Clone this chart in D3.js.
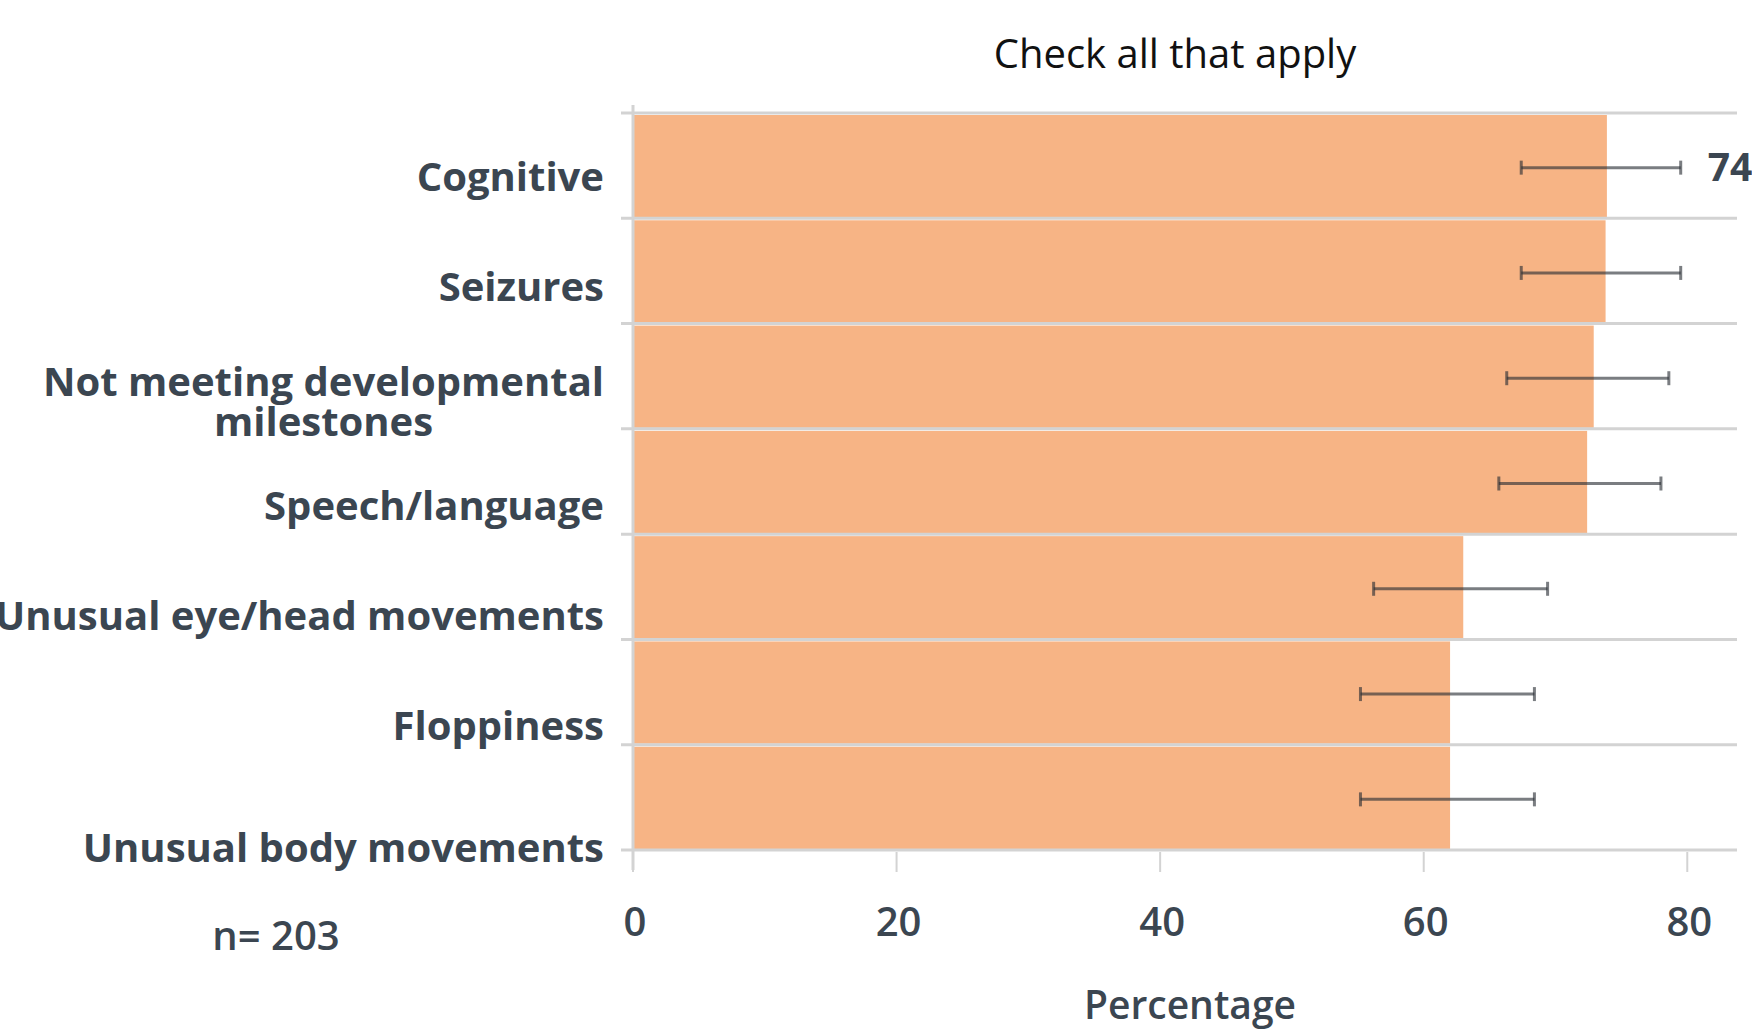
<!DOCTYPE html>
<html>
<head>
<meta charset="utf-8">
<script src="https://cdn.jsdelivr.net/npm/d3@7"></script>
<style>
  body { margin: 0; background: #fff; }
  text { font-family: "Open Sans", sans-serif; }
</style>
</head>
<body>
<div class="js-chart"></div>
<script>
'use strict';

//chart data
var categories = ['Cognitive', 'Seizures', 'Not meeting developmental milestones',
    'Speech/language', 'Unusual eye/head movements', 'Floppiness', 'Unusual body movements'];
var labelLines = [['Cognitive'], ['Seizures'], ['Not meeting developmental', 'milestones'],
    ['Speech/language'], ['Unusual eye/head movements'], ['Floppiness'], ['Unusual body movements']];
var values = [73.9, 73.8, 72.9, 72.4, 63.0, 62.0, 62.0];
var errLow = [67.4, 67.4, 66.3, 65.7, 56.2, 55.2, 55.2];
var errHigh = [79.5, 79.5, 78.6, 78.0, 69.4, 68.4, 68.4];
var xTicks = [0, 20, 40, 60, 80];
var shownValue = {index: 0, text: '74'};
var title = 'Check all that apply';
var xTitle = 'Percentage';
var note = 'n= 203';

var W = 1752, H = 1036;
var textColor = '#3b4651';
var gridColor = '#d3d3d3';

var svg = d3.select('.js-chart').append('svg')
    .attr('width', W)
    .attr('height', H);

var x = d3.scaleLinear().domain([0, 84]).range([633, 1740]);
var y = d3.scaleBand().domain(categories).range([113, 850]);

//label baselines drift a bit from the band centres in the original
var yLabel = d3.scaleLinear().domain([0, 5, 6]).range([191, 740, 862]);

//bars
svg.selectAll('.bar').data(categories).enter().append('rect')
    .attr('class', 'bar')
    .attr('x', x(0))
    .attr('y', function (d) { return y(d) + 2; })
    .attr('width', function (d, i) { return x(values[i]) - x(0); })
    .attr('height', y.bandwidth() - 3)
    .style('fill', '#f7b485');

//horizontal grid lines at band edges
var edges = categories.map(function (d) { return y(d); }).concat([y.range()[1]]);
svg.selectAll('.grid').data(edges).enter().append('line')
    .attr('class', 'grid')
    .attr('x1', x(0) - 12)
    .attr('x2', x(84) - 3)
    .attr('y1', function (d) { return d; })
    .attr('y2', function (d) { return d; })
    .style('stroke', gridColor)
    .style('stroke-width', 3);

//vertical axis line
svg.append('line')
    .attr('x1', x(0)).attr('x2', x(0))
    .attr('y1', 105).attr('y2', 870)
    .style('stroke', gridColor)
    .style('stroke-width', 3);

//x ticks
svg.selectAll('.xtick').data(xTicks).enter().append('line')
    .attr('class', 'xtick')
    .attr('x1', function (d) { return x(d); })
    .attr('x2', function (d) { return x(d); })
    .attr('y1', 852).attr('y2', 872)
    .style('stroke', gridColor)
    .style('stroke-width', 2);

svg.selectAll('.xlabel').data(xTicks).enter().append('text')
    .attr('class', 'xlabel')
    .attr('x', function (d) { return x(d) + 2; })
    .attr('y', 936)
    .attr('text-anchor', 'middle')
    .style('font-size', '40px')
    .style('font-weight', 600)
    .style('fill', textColor)
    .text(function (d) { return d; });

//error bars
var eb = svg.selectAll('.err').data(categories).enter().append('g')
    .attr('class', 'err')
    .attr('transform', function (d) { return 'translate(0,' + (y(d) + y.bandwidth() / 2 + 2) + ')'; })
    .style('stroke', 'rgba(40,45,52,0.62)')
    .style('stroke-width', 3);
eb.append('line')
    .attr('x1', function (d, i) { return x(errLow[i]); })
    .attr('x2', function (d, i) { return x(errHigh[i]); });
eb.append('line')
    .attr('x1', function (d, i) { return x(errLow[i]); })
    .attr('x2', function (d, i) { return x(errLow[i]); })
    .attr('y1', -7).attr('y2', 7);
eb.append('line')
    .attr('x1', function (d, i) { return x(errHigh[i]); })
    .attr('x2', function (d, i) { return x(errHigh[i]); })
    .attr('y1', -7).attr('y2', 7);

//value label
svg.append('text')
    .attr('x', x(errHigh[shownValue.index]) + 27)
    .attr('y', y(categories[shownValue.index]) + y.bandwidth() / 2 + 15)
    .style('font-size', '39px')
    .style('font-weight', 700)
    .style('fill', textColor)
    .text(shownValue.text);

//category labels, right aligned block with centered lines
svg.selectAll('.ylabel').data(categories).enter().append('text')
    .attr('class', 'ylabel')
    .attr('text-anchor', 'middle')
    .attr('transform', function (d, i) { return 'translate(0,' + yLabel(i) + ')'; })
    .style('font-size', '40px')
    .style('font-weight', 700)
    .style('fill', textColor)
    .each(function (d, i) {
        var lines = labelLines[i];
        var t = d3.select(this);
        lines.forEach(function (line, k) {
            t.append('tspan')
                .attr('x', 0)
                .attr('y', (k - (lines.length - 1) / 2) * 40 + 5 * (lines.length - 1))
                .text(line);
        });
        var w = this.getBBox().width;
        t.selectAll('tspan').attr('x', 604 - w / 2);
    });

//title
svg.append('text')
    .attr('x', 1175)
    .attr('y', 68)
    .attr('text-anchor', 'middle')
    .style('font-size', '40px')
    .style('fill', '#111')
    .text(title);

//axis title
svg.append('text')
    .attr('x', 1190)
    .attr('y', 1019)
    .attr('text-anchor', 'middle')
    .style('font-size', '39px')
    .style('font-weight', 600)
    .style('fill', textColor)
    .text(xTitle);

//sample size note
svg.append('text')
    .attr('x', 276)
    .attr('y', 950)
    .attr('text-anchor', 'middle')
    .style('font-size', '40px')
    .style('font-weight', 600)
    .style('fill', textColor)
    .text(note);
</script>
</body>
</html>
